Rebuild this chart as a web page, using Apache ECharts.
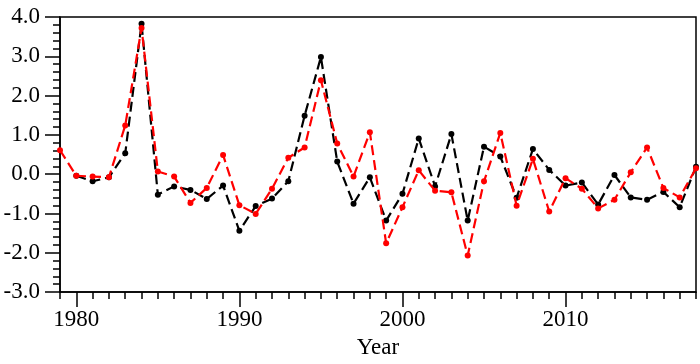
<!DOCTYPE html>
<html>
<head>
<meta charset="utf-8">
<script src="https://cdn.jsdelivr.net/npm/echarts@6/dist/echarts.min.js"></script>
<style>
  html, body { margin: 0; padding: 0; background: #fff; }
  #chart { width: 700px; height: 364px; }
</style>
</head>
<body>
<div id="chart"></div>
<script>
// years 1979 - 2018
const years = [];
for (let y = 1979; y <= 2018; y++) years.push(String(y));

// black dashed series (starts 1980)
const blackValues = [null, -0.04, -0.18, -0.08, 0.53, 3.83, -0.52, -0.31, -0.40, -0.63,
  -0.29, -1.44, -0.81, -0.62, -0.18, 1.49, 2.98, 0.32, -0.75, -0.08,
  -1.18, -0.50, 0.91, -0.31, 1.02, -1.18, 0.70, 0.45, -0.60, 0.64,
  0.11, -0.29, -0.21, -0.77, -0.02, -0.59, -0.65, -0.45, -0.84, 0.19];

// red dashed series
const redValues = [0.61, -0.04, -0.06, -0.08, 1.24, 3.72, 0.07, -0.06, -0.73, -0.35,
  0.49, -0.79, -1.01, -0.37, 0.42, 0.68, 2.39, 0.78, -0.06, 1.07,
  -1.76, -0.84, 0.10, -0.42, -0.46, -2.07, -0.18, 1.05, -0.80, 0.39,
  -0.95, -0.10, -0.37, -0.87, -0.65, 0.05, 0.68, -0.35, -0.59, 0.15];

const yTicks = [-3, -2, -1, 0, 1, 2, 3, 4];

const font = 'Liberation Serif';

const chart = echarts.init(document.getElementById('chart'));

const isDecade = (idx, val) => Number(val) % 10 === 0;

chart.setOption({
  animation: false,
  grid: {
    left: 60, right: 4, top: 17, bottom: 69,
    show: true, borderColor: '#000', borderWidth: 1.5
  },
  xAxis: [
    {
      type: 'category',
      data: years,
      boundaryGap: false,
      axisLine: { onZero: false, lineStyle: { color: '#000', width: 1.5 } },
      axisTick: { show: true, interval: 0, length: 7, lineStyle: { color: '#000', width: 1.5 } },
      axisLabel: {
        interval: isDecade,
        color: '#000', fontFamily: font, fontSize: 23, margin: 16
      },
      name: 'Year',
      nameLocation: 'middle',
      nameGap: 43,
      nameTextStyle: { color: '#000', fontFamily: font, fontSize: 23 },
      splitLine: { show: false }
    },
    {
      type: 'category',
      data: years,
      boundaryGap: false,
      position: 'bottom',
      axisLine: { show: false, onZero: false },
      axisTick: { show: true, interval: isDecade, length: 15, lineStyle: { color: '#000', width: 1.5 } },
      axisLabel: { show: false },
      splitLine: { show: false }
    }
  ],
  yAxis: {
    type: 'value',
    min: yTicks[0],
    max: yTicks[yTicks.length - 1],
    interval: 1,
    axisLine: { show: true, lineStyle: { color: '#000', width: 1.5 } },
    axisTick: { show: true, length: 15, lineStyle: { color: '#000', width: 1.5 } },
    minorTick: { show: true, splitNumber: 5, length: 7, lineStyle: { color: '#000', width: 1.5 } },
    axisLabel: {
      color: '#000', fontFamily: font, fontSize: 23, margin: 20,
      formatter: v => v.toFixed(1)
    },
    splitLine: { show: false }
  },
  series: [
    {
      type: 'line',
      data: blackValues,
      symbol: 'circle',
      symbolSize: 6,
      itemStyle: { color: '#000' },
      lineStyle: { color: '#000', width: 2.2, type: [10, 5] },
      z: 2
    },
    {
      type: 'line',
      data: redValues,
      symbol: 'circle',
      symbolSize: 6,
      itemStyle: { color: '#ff0000' },
      lineStyle: { color: '#ff0000', width: 2.2, type: [10, 5] },
      z: 3
    }
  ]
});
</script>
</body>
</html>
